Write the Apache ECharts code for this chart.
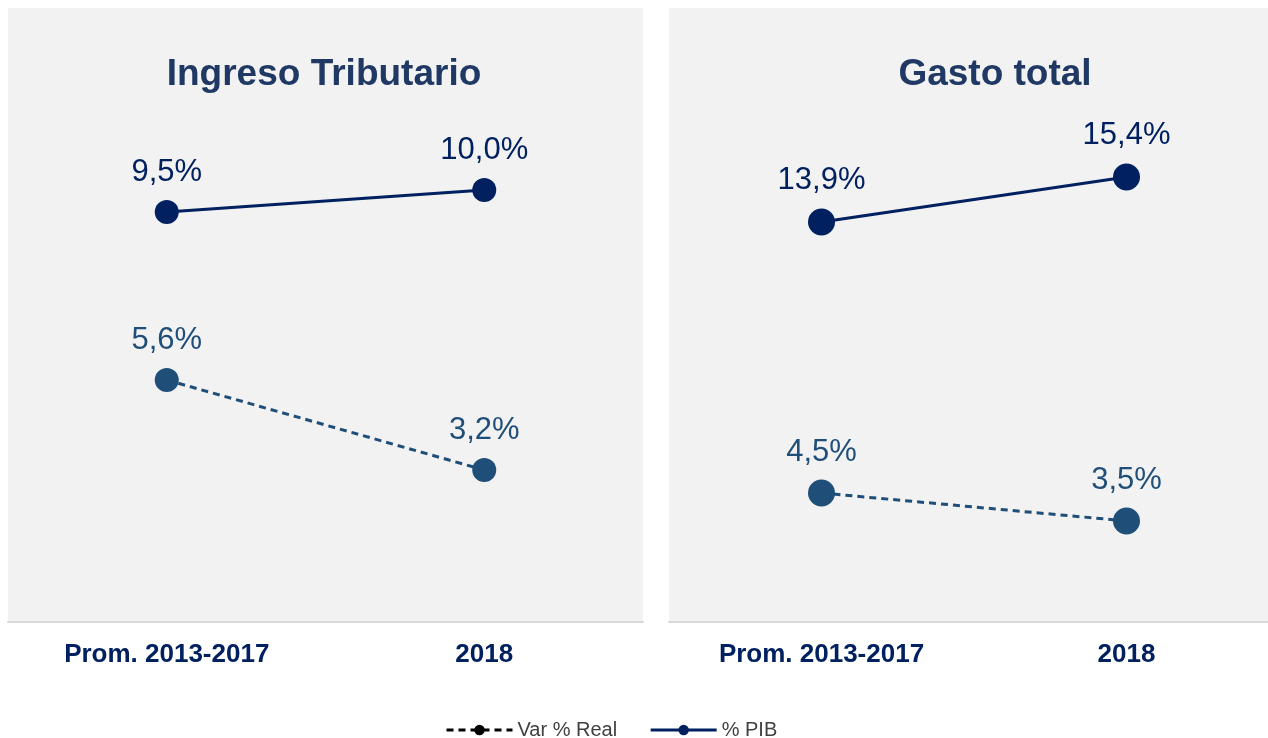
<!DOCTYPE html>
<html>
<head>
<meta charset="utf-8">
<script src="https://cdn.jsdelivr.net/npm/echarts@6/dist/echarts.min.js"></script>
<style>
  html, body { margin: 0; padding: 0; background: #fff; }
  #chart { width: 1268px; height: 738px; }
</style>
</head>
<body>
<div id="chart"></div>
<script>
const categories = ["Prom. 2013-2017", "2018"];
const ingresoPib = [9.5, 10.0];
const ingresoVar = [5.6, 3.2];
const gastoPib = [13.9, 15.4];
const gastoVar = [4.5, 3.5];

const navy = "#002060";
const steel = "#1f4e79";
const font = "Liberation Sans, Arial, sans-serif";

const chart = echarts.init(document.getElementById("chart"));

const fmt = function (p) {
  return p.value.toFixed(1).replace(".", ",") + "%";
};

const xAxisOf = function (idx) {
  return {
    type: "category",
    gridIndex: idx,
    data: categories,
    axisTick: { show: false },
    axisLine: { onZero: false, lineStyle: { color: "#d9d9d9", width: 2 } },
    axisLabel: {
      color: navy,
      fontWeight: "bold",
      fontSize: 26,
      fontFamily: font,
      margin: 20,
    },
  };
};

const lineSeries = function (name, data, x, y, color, dashed, size) {
  return {
    name: name,
    type: "line",
    xAxisIndex: x,
    yAxisIndex: y,
    data: data,
    symbol: "circle",
    symbolSize: size,
    lineStyle: { color: color, width: 3, type: dashed ? [7, 5] : "solid" },
    itemStyle: { color: color },
    label: {
      show: true,
      position: "top",
      distance: 12,
      color: color,
      fontSize: 31,
      fontFamily: font,
      formatter: fmt,
    },
  };
};

const titleStyle = { color: "#1f3864", fontSize: 37, fontWeight: "bold", fontFamily: font };

const option = {
  animation: false,
  title: [
    { text: "Ingreso Tributario", left: 319, top: 51, textAlign: "center", textStyle: titleStyle },
    { text: "Gasto total", left: 990, top: 51, textAlign: "center", textStyle: titleStyle },
  ],
  legend: {
    top: 715,
    left: 440,
    itemWidth: 66,
    itemHeight: 13,
    itemGap: 32,
    textStyle: { color: "#404040", fontSize: 20, fontFamily: font },
    data: [
      {
        name: "Var % Real",
        itemStyle: { color: "#000" },
        lineStyle: { color: "#000", type: [7, 5], width: 3 },
      },
      {
        name: "% PIB",
        itemStyle: { color: navy },
        lineStyle: { color: navy, width: 3 },
      },
    ],
  },
  grid: [
    { left: 8, top: 8, width: 635, height: 614, show: true, backgroundColor: "#f2f2f2", borderWidth: 0, outerBoundsMode: "none" },
    { left: 669, top: 8, width: 610, height: 614, show: true, backgroundColor: "#f2f2f2", borderWidth: 0, outerBoundsMode: "none" },
  ],
  xAxis: [xAxisOf(0), xAxisOf(1)],
  yAxis: [
    { type: "value", gridIndex: 0, min: 0.18, max: 14.14, show: false },
    { type: "value", gridIndex: 0, min: -0.853, max: 15.52, show: false },
    { type: "value", gridIndex: 1, min: 0.567, max: 21.03, show: false },
    { type: "value", gridIndex: 1, min: -0.107, max: 21.82, show: false },
  ],
  series: [
    lineSeries("% PIB", ingresoPib, 0, 0, navy, false, 24),
    lineSeries("Var % Real", ingresoVar, 0, 1, steel, true, 24),
    lineSeries("% PIB", gastoPib, 1, 2, navy, false, 27),
    lineSeries("Var % Real", gastoVar, 1, 3, steel, true, 27),
  ],
};

chart.setOption(option);
</script>
</body>
</html>
